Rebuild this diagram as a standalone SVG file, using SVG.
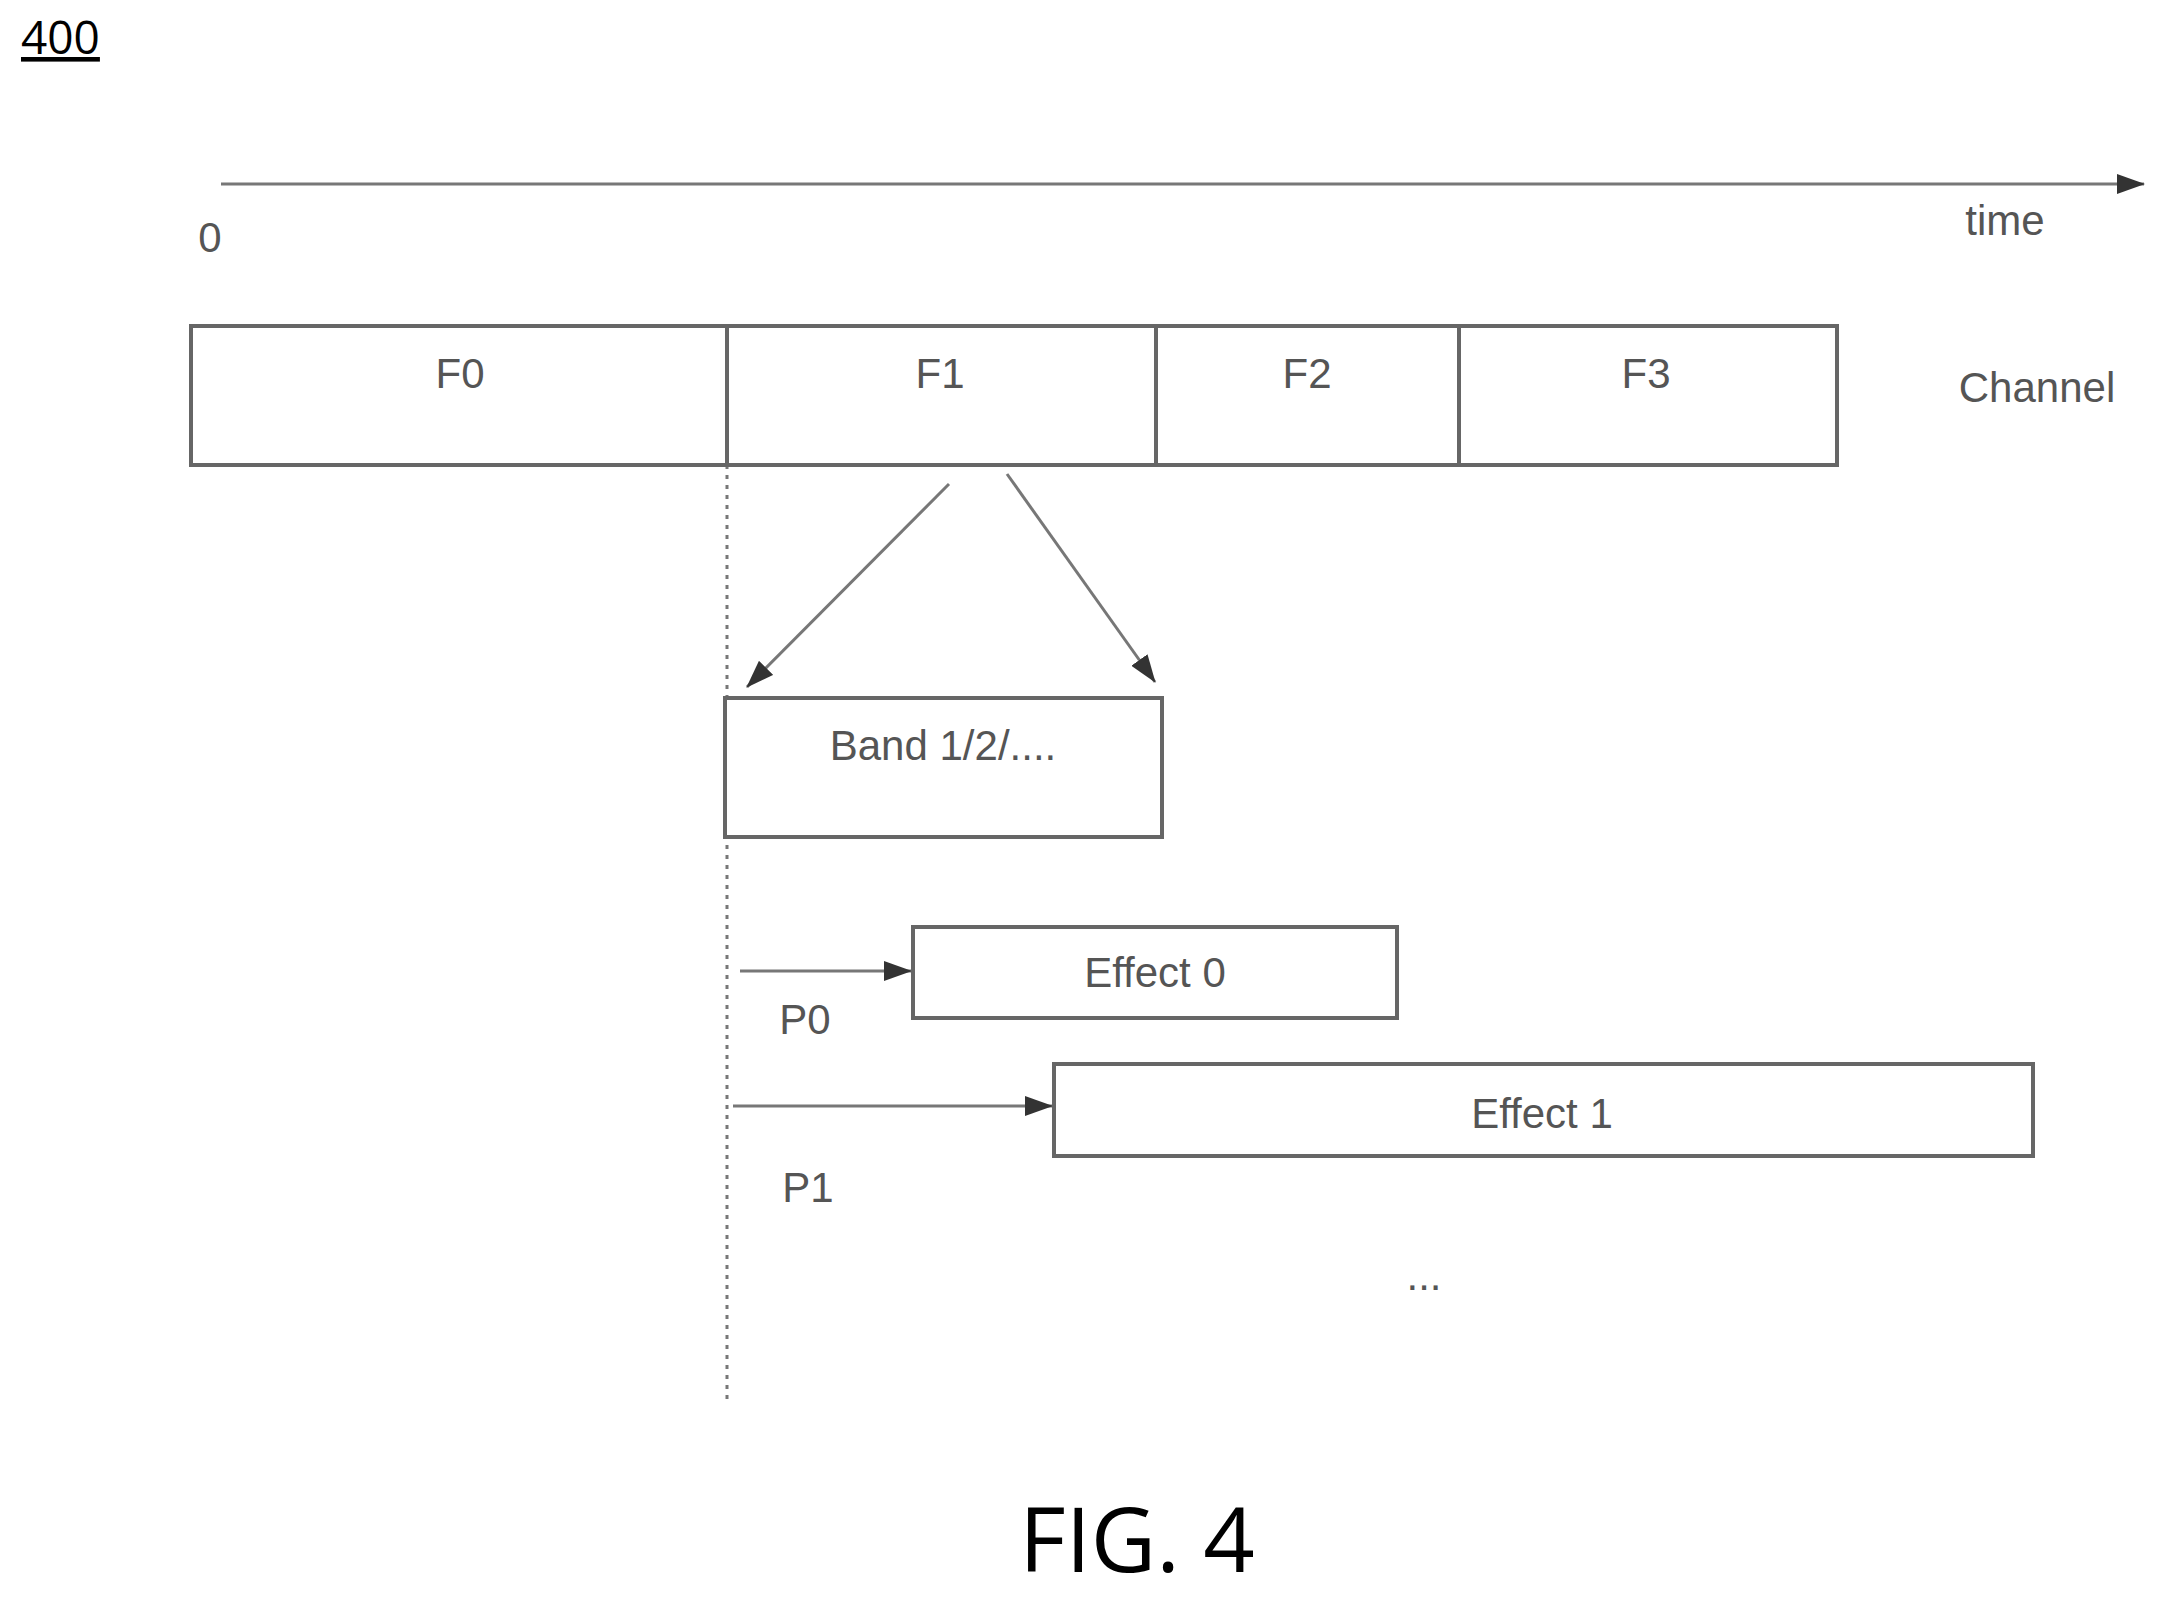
<svg xmlns="http://www.w3.org/2000/svg" width="2169" height="1597" viewBox="0 0 2169 1597">
<style>
.t{font-family:"Liberation Sans",Arial,sans-serif;font-size:42px;fill:#555;text-anchor:middle}
.b{fill:#fff;stroke:#666;stroke-width:4}
.l{stroke:#777;stroke-width:3;fill:none}
</style>
<defs><marker id="a" viewBox="0 0 28 20" refX="27" refY="10" markerWidth="28" markerHeight="20" orient="auto" markerUnits="userSpaceOnUse"><path d="M0,0L28,10L0,20z" fill="#333"/></marker></defs>
<rect width="2169" height="1597" fill="#fff"/>
<text x="21" y="54" style="font-family:'Open Sans','Liberation Sans',sans-serif;font-size:46px;fill:#000;text-decoration:underline">400</text>
<g id="connectors">
<line class="l" x1="221" y1="184" x2="2144" y2="184" marker-end="url(#a)"/>
<line class="l" x1="727" y1="465" x2="727" y2="1404" stroke-dasharray="4,6"/>
<line class="l" x1="949" y1="484" x2="747" y2="687" marker-end="url(#a)"/>
<line class="l" x1="1007" y1="474" x2="1155" y2="682" marker-end="url(#a)"/>
<line class="l" x1="740" y1="971" x2="911" y2="971" marker-end="url(#a)"/>
<line class="l" x1="733" y1="1106" x2="1052" y2="1106" marker-end="url(#a)"/>
</g>
<text class="t" x="210" y="252">0</text>
<text class="t" x="2005" y="235">time</text>
<g id="F0"><rect class="b" x="191" y="326" width="536" height="139"/><text class="t" x="460" y="388">F0</text></g>
<g id="F1"><rect class="b" x="727" y="326" width="429" height="139"/><text class="t" x="940" y="388">F1</text></g>
<g id="F2"><rect class="b" x="1156" y="326" width="303" height="139"/><text class="t" x="1307" y="388">F2</text></g>
<g id="F3"><rect class="b" x="1459" y="326" width="378" height="139"/><text class="t" x="1646" y="388">F3</text></g>
<text class="t" x="2037" y="402">Channel</text>
<g id="band"><rect class="b" x="725" y="698" width="437" height="139"/><text class="t" x="943" y="760">Band 1/2/....</text></g>
<g id="effect0"><rect class="b" x="913" y="927" width="484" height="91"/><text class="t" x="1155" y="987">Effect 0</text></g>
<g id="effect1"><rect class="b" x="1054" y="1064" width="979" height="92"/><text class="t" x="1542" y="1128">Effect 1</text></g>
<text class="t" x="805" y="1034">P0</text>
<text class="t" x="808" y="1202">P1</text>
<text class="t" x="1424" y="1290">...</text>
<text x="1137" y="1572" style="font-family:'Open Sans','Liberation Sans',sans-serif;font-size:90px;fill:#000;text-anchor:middle">FIG. 4</text>
</svg>
